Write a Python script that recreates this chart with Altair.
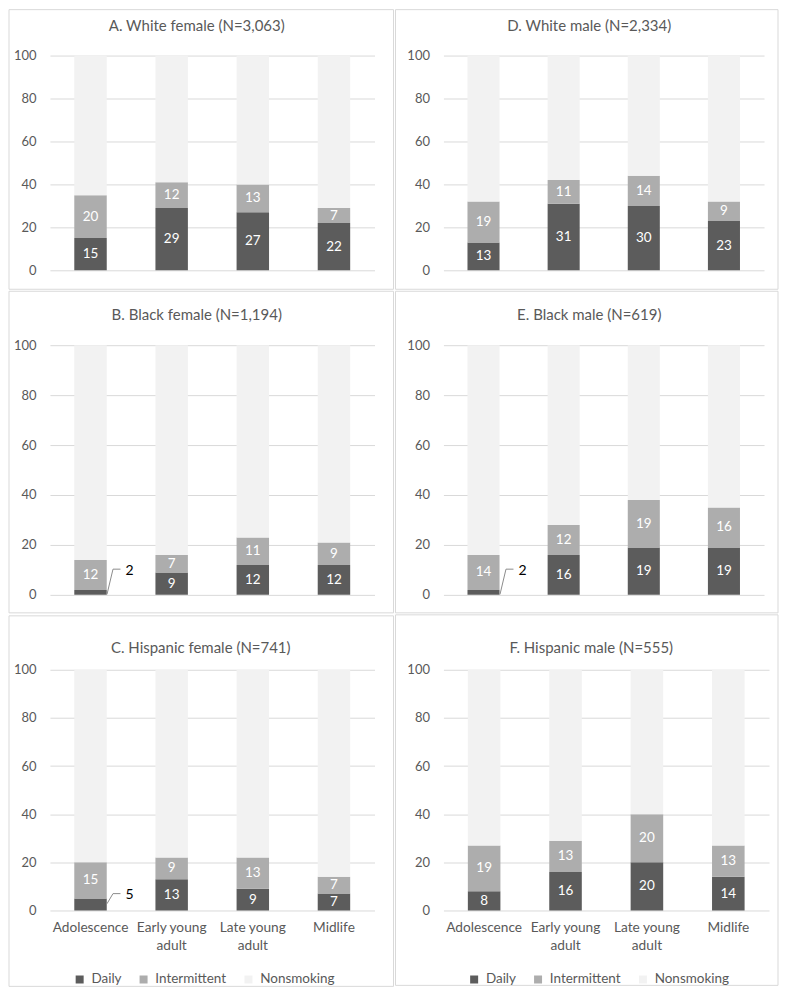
import altair as alt
import pandas as pd

stages = ["Adolescence", "Early young adult", "Late young adult", "Midlife"]
statuses = ["Daily", "Intermittent", "Nonsmoking"]
status_colors = ["#5c5c5c", "#adadad", "#f2f2f2"]

titles = [
    "A. White female (N=3,063)", "D. White male (N=2,334)",
    "B. Black female (N=1,194)", "E. Black male (N=619)",
    "C. Hispanic female (N=741)", "F. Hispanic male (N=555)",
]
daily = [
    [15, 29, 27, 22], [13, 31, 30, 23],
    [2, 9, 12, 12], [2, 16, 19, 19],
    [5, 13, 9, 7], [8, 16, 20, 14],
]
intermittent = [
    [20, 12, 13, 7], [19, 11, 14, 9],
    [12, 7, 11, 9], [14, 12, 19, 16],
    [15, 9, 13, 7], [19, 13, 20, 13],
]
# callouts for tiny Daily segments: (panel index, stage, text y, leader start y, leader end y)
callouts = [
    (2, "Adolescence", 9.6, 0.2, 10.3),
    (3, "Adolescence", 9.6, 0.2, 10.3),
    (4, "Adolescence", 6.6, 2.8, 7.0),
]

GRAY = "#595959"
FONT = "Lato"


def panel(i, W, H, L, R, T, B, tx, ty, show_x, show_legend, legend_x=25):
    rows = []
    lab = []
    co = [c for c in callouts if c[0] == i]
    co_stages = [c[1] for c in co]
    for s, d, m in zip(stages, daily[i], intermittent[i]):
        vals = [d, m, 100 - d - m]
        for k, (st, v) in enumerate(zip(statuses, vals)):
            rows.append({"stage": s, "status": st, "value": v, "ord": k})
        if s not in co_stages:
            lab.append({"stage": s, "txt": str(d), "ypos": d / 2})
        lab.append({"stage": s, "txt": str(m), "ypos": d + m / 2})
    df = pd.DataFrame(rows)
    ldf = pd.DataFrame(lab)

    if show_x:
        xaxis = alt.Axis(
            title=None, domain=False, ticks=False, labelPadding=10, labelAngle=0,
            labelColor=GRAY, labelFontSize=13.7, labelLineHeight=18, labelFont=FONT,
            labelExpr="split(replace(datum.label, 'young ', 'young|'), '|')",
        )
    else:
        xaxis = None
    x_enc = alt.X(
        "stage:N", sort=stages, title=None, axis=xaxis,
        scale=alt.Scale(paddingInner=0.6, paddingOuter=0.3),
    )
    x_plain = alt.X("stage:N", sort=stages, title=None)
    y_scale = alt.Scale(domain=[0, 100], nice=False)

    if show_legend:
        legend = alt.Legend(
            orient="none", legendX=legend_x, legendY=303, direction="horizontal", title=None,
            symbolType="square", symbolSize=64, symbolStrokeWidth=0,
            labelFontSize=13.5, labelColor=GRAY, labelFont=FONT, columnPadding=15, labelOffset=5,
        )
    else:
        legend = None

    bars = alt.Chart(df).mark_bar().encode(
        x=x_enc,
        y=alt.Y(
            "value:Q", stack="zero", scale=y_scale, title=None,
            axis=alt.Axis(
                values=[0, 20, 40, 60, 80, 100], grid=True, gridColor="#d9d9d9",
                domain=False, ticks=False, labelPadding=14, labelColor=GRAY,
                labelFontSize=13, labelFont=FONT,
            ),
        ),
        color=alt.Color(
            "status:N",
            scale=alt.Scale(domain=statuses, range=status_colors),
            legend=legend,
        ),
        order=alt.Order("ord:Q", sort="ascending"),
    )
    texts = alt.Chart(ldf).mark_text(color="white", fontSize=13.5, font=FONT).encode(
        x=x_plain,
        y=alt.Y("ypos:Q", scale=y_scale),
        text="txt:N",
    )
    layers = [bars, texts]
    if co:
        cdf = pd.DataFrame(
            [{"stage": c[1], "txt": str(daily[i][stages.index(c[1])]), "yt": c[2], "ya": c[3], "yb": c[4]} for c in co]
        )
        slant = alt.Chart(cdf).mark_rule(color="#8c8c8c", strokeWidth=1, xOffset=16.5, x2Offset=22.5).encode(
            x=x_plain, x2="stage:N", y=alt.Y("ya:Q", scale=y_scale), y2="yb:Q"
        )
        horiz = alt.Chart(cdf).mark_rule(color="#8c8c8c", strokeWidth=1, xOffset=22.5, x2Offset=30).encode(
            x=x_plain, x2="stage:N", y=alt.Y("yb:Q", scale=y_scale)
        )
        ctext = alt.Chart(cdf).mark_text(color="black", fontSize=14, font=FONT, align="left", dx=35).encode(
            x=x_plain, y=alt.Y("yt:Q", scale=y_scale), text="txt:N"
        )
        layers += [slant, horiz, ctext]
    ttl = alt.Chart(pd.DataFrame({"t": [titles[i]]})).mark_text(
        fontSize=15, color=GRAY, font=FONT, baseline="middle"
    ).encode(x=alt.value(tx), y=alt.value(ty), text="t:N")
    border = alt.Chart(pd.DataFrame({"b": [0]})).mark_rect(
        fillOpacity=0, stroke="#d9d9d9", strokeWidth=1
    ).encode(
        x=alt.value(-L), x2=alt.value(W + R), y=alt.value(-T), y2=alt.value(H + B)
    )
    layers += [ttl, border]
    return alt.layer(*layers).properties(width=W, height=H)


row1 = alt.hconcat(
    panel(0, 325, 215, 41, 19, 46, 19, 147, -30, False, False),
    panel(1, 321, 215, 48, 14, 46, 19, 146, -30, False, False),
    spacing=0,
).resolve_scale(color="independent").resolve_legend(color="independent")
row2 = alt.hconcat(
    panel(2, 325, 250, 41, 19, 54, 18, 147, -30, False, False),
    panel(3, 321, 250, 48, 14, 54, 18, 146, -30, False, False),
    spacing=0,
).resolve_scale(color="independent").resolve_legend(color="independent")
row3 = alt.hconcat(
    panel(4, 325, 241, 41, 19, 54, 76, 151, -22, True, True, 23),
    panel(5, 326, 241, 48, 9, 55, 75, 148, -22, True, True, 24),
    spacing=0,
).resolve_scale(color="independent").resolve_legend(color="independent")

chart = alt.vconcat(row1, row2, row3, spacing=0).resolve_scale(
    color="independent"
).resolve_legend(color="independent").properties(padding=0).configure(
    font=FONT
).configure_view(stroke=None)

chart.save("out.html", embed_options={"renderer": "svg", "actions": False})
